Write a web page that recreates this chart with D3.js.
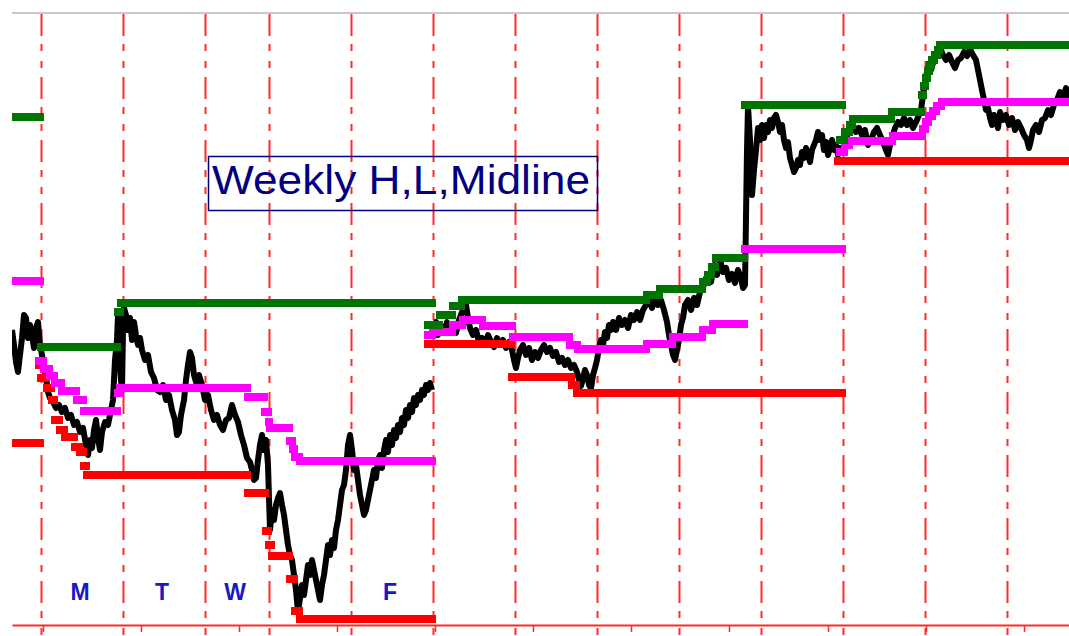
<!DOCTYPE html>
<html lang="en">
<head>
<meta charset="UTF-8">
<title>Weekly H,L,Midline</title>
<script src="https://d3js.org/d3.v7.min.js"></script>
<style>
    body{ margin:0; background:#fff; font-family: "Liberation Sans", Arial, sans-serif; }
</style>
</head>
<body>
<svg width="1069" height="636" viewBox="0 0 1069 636"></svg>
<script>
    // ---- data: x = bar number, y = price (points) ----
    const dayBars = [29, 111, 193, 257, 339, 421, 503, 585, 667, 749, 831, 913, 995];
    const minorTicks = [31, 129, 227, 325, 423, 521, 619, 717, 816, 914, 1012];
    const dayLabels = [["M", 0], ["T", 1], ["W", 2], ["F", 4]];   // letter, day index

    // price, split per week (gap on Monday open of week 2)
    const pricePrevWk1 = [[0,1295],[2,1280],[4,1263],[6,1253],[8,1270],[10,1287],[12,1310],[14,1307],[16,1287],[18,1300],
        [20,1290],[22,1277],[24,1297],[26,1303],[28,1280],
        [30,1270],[32,1257],[34,1247],[36,1233],[38,1227],[41,1223],[44,1217],[47,1220],[50,1213],[53,1217],[56,1207],
        [59,1210],[62,1200],[65,1203],[68,1193],[71,1197],[74,1180],[76,1170],[78,1185],[80,1177],[82,1195],[84,1205],
        [86,1187],[88,1175],[90,1193],[93,1203],[96,1200],[99,1215],[101,1225],[103,1265],[105,1285],[106,1310],[107,1280],
        [109,1245],[110,1235],[111,1295],[112,1317],[114,1310],[116,1295],[118,1307],[120,1285],[122,1303],[124,1290],
        [126,1280],[128,1287],[130,1275],[133,1265],[136,1270],[139,1253],[142,1247],[145,1235],[148,1233],[151,1240],
        [154,1225],[157,1230],[160,1215],[163,1205],[165,1190],[167,1193],[169,1210],[172,1225],[174,1245],[176,1260],
        [178,1273],[180,1267],[182,1250],[184,1243],[187,1250],[190,1240],[193,1225],[196,1230],[199,1215],[202,1205],
        [205,1210],[208,1200],[211,1195],[214,1205],[217,1207],[220,1220],[223,1210],[226,1203],[229,1190],[232,1180],
        [235,1167],[238,1163],[240,1155],[242,1145],[244,1147],[246,1165],[248,1180],[250,1190],[252,1175],[254,1185],
        [256,1160],[258,1095],[260,1115],[262,1105],[264,1120],[266,1127],[268,1132],[270,1120],[272,1110],[274,1095],
        [276,1080],[278,1070],[280,1065],[282,1050],[284,1035],[286,1013],[288,1027],[290,1040],[292,1030],[294,1045],
        [296,1060],[298,1050],[300,1065],[302,1055],[304,1045],[306,1035],[308,1025],[310,1040],[312,1050],[314,1065],
        [316,1080],[318,1070],[320,1085],[322,1077],[324,1095],[326,1105],[328,1120],[330,1135],[332,1140],[334,1155],
        [336,1180],[338,1190],[340,1175],[342,1155],[344,1160],[346,1145],[348,1130],[350,1120],[352,1110],[354,1115],
        [356,1125],[358,1135],[360,1145],[362,1155],[364,1147],[366,1165],[368,1170],[370,1157],[372,1175],[374,1185],
        [376,1173],[378,1190],[380,1180],[382,1195],[384,1187],[386,1200],[388,1193],[390,1207],[392,1200],[394,1215],
        [396,1207],[398,1220],[400,1213],[402,1227],[404,1220],[406,1230],[408,1225],[410,1235],[412,1230],[414,1240],
        [416,1235],[418,1242],[420,1235]];

    const priceWk2Wk3 = [[422,1295],[424,1303],[426,1290],[429,1299],[432,1293],[435,1303],[438,1295],[441,1300],[444,1292],
        [447,1305],[450,1313],[452,1317],[454,1320],[456,1307],[458,1297],[461,1290],[464,1295],[467,1283],[470,1287],
        [473,1280],[476,1290],[479,1283],[482,1278],[485,1287],[488,1280],[491,1285],[494,1277],[497,1283],[500,1275],
        [502,1265],[504,1257],[506,1267],[508,1275],[511,1280],[514,1270],[517,1277],[520,1265],[523,1273],[526,1267],
        [529,1275],[532,1280],[535,1273],[538,1277],[541,1269],[544,1273],[547,1263],[550,1267],[553,1260],[556,1265],
        [559,1257],[562,1260],[565,1253],[567,1245],[569,1239],[571,1247],[573,1255],[575,1250],[577,1240],[579,1237],
        [581,1250],[583,1257],[585,1265],[587,1277],[589,1285],[591,1280],[593,1293],[595,1287],[597,1300],[599,1295],
        [601,1303],[604,1295],[607,1307],[610,1300],[613,1305],[616,1297],[619,1310],[622,1305],[625,1313],[628,1305],
        [631,1315],[634,1320],[637,1325],[640,1317],[643,1327],[646,1320],[649,1325],[652,1315],[655,1303],[657,1290],
        [659,1280],[661,1270],[663,1265],[665,1275],[667,1285],[669,1300],[671,1307],[673,1320],[676,1325],[679,1315],
        [682,1327],[685,1320],[688,1333],[691,1337],[693,1345],[696,1350],[699,1343],[702,1360],[705,1350],[708,1365],
        [711,1353],[714,1357],[717,1345],[720,1351],[723,1342],[726,1355],[729,1347],[731,1337],[733,1340],[735,1475],
        [736,1519],[738,1485],[740,1430],[742,1455],[744,1475],[746,1497],[748,1485],[750,1500],[752,1487],[754,1500],
        [756,1493],[758,1505],[760,1497],[762,1507],[764,1510],[766,1503],[768,1493],[770,1500],[772,1485],[774,1477],
        [776,1483],[778,1467],[780,1460],[782,1453],[784,1457],[786,1465],[788,1460],[790,1473],[792,1467],[794,1477],
        [796,1470],[798,1463],[800,1475],[802,1480],[804,1485],[806,1493],[808,1485],[810,1490],[812,1475],[814,1483],
        [816,1470],[818,1477],[820,1485],[822,1475],[824,1480],[826,1470],[828,1477],[830,1473],
        [832,1475],[834,1485],[836,1493],[838,1497],[841,1500],[844,1493],[847,1497],[850,1490],[853,1495],[856,1480],
        [859,1485],[862,1493],[865,1497],[868,1490],[871,1483],[874,1475],[876,1470],[878,1480],[880,1487],[883,1497],
        [886,1503],[889,1500],[892,1507],[895,1500],[898,1505],[901,1497],[904,1503],[907,1510],[909,1515],[911,1530],
        [913,1543],[915,1553],[917,1560],[919,1555],[922,1565],[925,1570],[928,1577],[931,1570],[934,1565],[937,1570],
        [940,1563],[943,1557],[946,1565],[949,1567],[952,1573],[955,1569],[958,1576],[961,1570],[964,1565],[966,1555],
        [968,1545],[970,1535],[972,1525],[974,1515],[976,1517],[978,1507],[980,1500],[982,1510],[984,1505],[986,1497],
        [988,1513],[991,1505],[994,1510],[997,1500],[1000,1507],[1003,1495],[1006,1503],[1009,1497],[1012,1490],
        [1015,1485],[1017,1477],[1019,1485],[1021,1495],[1024,1500],[1027,1493],[1030,1505],[1033,1507],[1036,1515],
        [1039,1510],[1042,1520],[1045,1525],[1048,1533],[1051,1527],[1054,1537],[1056,1525]];

    // running weekly high / low / midline, one step list per week (last point = end)
    const weekHigh = [
        [[0,1508],[29,1508]],
        [[29,1278],[106,1313],[109,1322],[421,1322]],
        [[416,1300],[428,1310],[441,1319],[450,1325],[635,1330],[648,1336],[691,1343],[696,1350],[700,1358],[704,1367],[733,1520],[831,1520]],
        [[828,1485],[833,1493],[838,1500],[841,1506],[880,1513],[910,1530],[912,1539],[914,1547],[916,1554],[918,1560],[920,1565],[923,1570],[926,1575],[928,1580],[1057,1580]]
    ];
    const weekMid = [
        [[0,1344],[29,1344]],
        [[27,1264],[32,1256],[38,1249],[43,1242],[50,1234],[65,1225],[72,1214],[106,1232],[108,1237],[236,1228],[253,1213],[257,1203],[258,1197],[278,1184],[281,1176],[283,1168],[288,1164],[421,1164]],
        [[416,1290],[421,1293],[441,1300],[451,1305],[471,1299],[501,1288],[558,1280],[566,1276],[635,1281],[661,1288],[691,1295],[701,1301],[733,1376],[831,1376]],
        [[828,1473],[833,1480],[838,1484],[881,1489],[911,1496],[914,1503],[917,1509],[921,1514],[925,1519],[930,1523],[1057,1523]]
    ];
    const weekLow = [
        [[0,1182],[29,1182]],
        [[27,1260],[29,1247],[35,1237],[40,1225],[43,1205],[48,1195],[53,1188],[63,1178],[68,1173],[72,1159],[75,1150],[236,1132],[254,1094],[257,1080],[260,1069],[278,1046],[283,1014],[288,1006],[421,1006]],
        [[416,1281],[500,1248],[560,1240],[565,1232],[831,1232]],
        [[826,1464],[1057,1464]]
    ];

    const title = "Weekly H,L,Midline";

    // ---- chart ----
    const svg = d3.select('svg');
    const x = d3.scaleLinear().domain([0, 1057]).range([12, 1069]);
    const y = d3.scaleLinear().domain([1000, 1612]).range([625, 13]);

    svg.append('rect').attr('width', 1069).attr('height', 636).attr('fill', '#fff');
    svg.append('clipPath').attr('id', 'plot')
        .append('rect').attr('x', x(0)).attr('y', 0).attr('width', x(1057) - x(0)).attr('height', 625);

    // top border
    svg.append('line')
        .attr('x1', x(0)).attr('x2', x(1057)).attr('y1', 13).attr('y2', 13)
        .attr('stroke', '#c8c8c8').attr('stroke-width', 2);

    // day separators
    svg.append('g').selectAll('line')
        .data(dayBars).enter().append('line')
        .attr('x1', d => Math.round(x(d)) + 0.5).attr('x2', d => Math.round(x(d)) + 0.5)
        .attr('y1', 14).attr('y2', 636)
        .attr('stroke', '#ff2a2a').attr('stroke-width', 2)
        .attr('stroke-dasharray', '22,8,7,10,7,9');

    // bottom axis
    const axis = svg.append('g')
        .attr('transform', 'translate(0,625)')
        .call(d3.axisBottom(x).tickValues(minorTicks).tickSize(7).tickSizeOuter(0).tickFormat(''));
    axis.select('.domain').attr('stroke', '#ff2a2a').attr('stroke-width', 2);
    axis.selectAll('.tick line').attr('stroke', '#ff2a2a').attr('stroke-width', 1.5);

    // title box
    svg.append('rect')
        .attr('x', 208.5).attr('y', 156.5).attr('width', 389).attr('height', 54)
        .attr('fill', 'none').attr('stroke', '#000080').attr('stroke-width', 1.5);
    svg.append('text')
        .attr('x', 212).attr('y', 194)
        .attr('font-size', 40).attr('fill', '#000080')
        .attr('textLength', 378).attr('lengthAdjust', 'spacingAndGlyphs')
        .text(title);

    // day letters
    svg.append('g').selectAll('text')
        .data(dayLabels).enter().append('text')
        .attr('x', d => x((dayBars[d[1]] + dayBars[d[1] + 1]) / 2) - 2)
        .attr('y', 600)
        .attr('text-anchor', 'middle')
        .attr('font-size', 23).attr('font-weight', 'bold').attr('fill', '#1818c8')
        .text(d => d[0]);

    // price
    const line = d3.line().x(d => x(d[0])).y(d => y(d[1]));
    svg.append('g').attr('clip-path', 'url(#plot)').selectAll('path')
        .data([pricePrevWk1, priceWk2Wk3]).enter().append('path')
        .attr('d', line)
        .attr('fill', 'none').attr('stroke', '#000').attr('stroke-width', 6)
        .attr('stroke-linejoin', 'round');

    // weekly high / low / midline: square blocks on each level, no risers
    const toSegments = set => set.flatMap(s => d3.pairs(s));
    const seg = d3.line().x(d => x(d[0])).y(d => y(d[1]));
    [[weekLow, '#ff0000'], [weekMid, '#ff00ff'], [weekHigh, '#007400']].forEach(([set, col]) => {
        svg.append('g').attr('clip-path', 'url(#plot)').selectAll('path')
            .data(toSegments(set)).enter().append('path')
            .attr('d', ([a, b]) => seg([[a[0], a[1]], [b[0] - 1, a[1]]]))
            .attr('fill', 'none').attr('stroke', col).attr('stroke-width', 8)
            .attr('stroke-linecap', 'square');
    });
</script>
</body>
</html>
